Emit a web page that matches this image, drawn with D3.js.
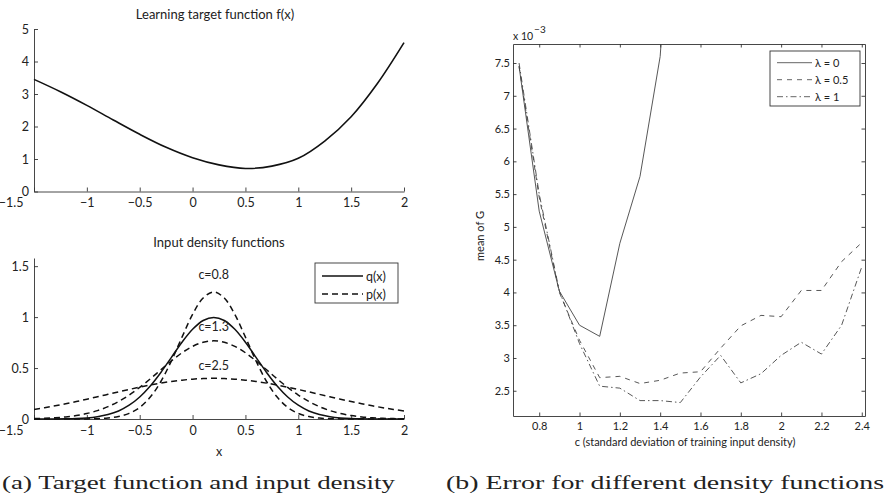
<!DOCTYPE html>
<html><head><meta charset="utf-8">
<script src="https://cdn.jsdelivr.net/npm/d3@7/dist/d3.min.js"></script>
<style>
body{margin:0;background:#fff;}
svg text{font-family:Lato,"Open Sans",sans-serif;fill:#222;}
.cap{font-family:"Liberation Serif","DejaVu Serif",serif;}
</style></head>
<body>
<svg id="c" width="885" height="500"></svg>
<script>
// ---------- data ----------
// (a) top: learning target function f(x)
const fxX = [-1.5,-1.25,-1,-0.75,-0.5,-0.25,0,0.25,0.5,0.75,1,1.25,1.5,1.75,2];
const fxY = [3.45,3.07,2.65,2.20,1.76,1.36,1.04,0.82,0.71,0.78,1.02,1.55,2.30,3.33,4.58];
// (a) bottom: input densities
const densX = [-1.5,-1.4,-1.3,-1.2,-1.1,-1.0,-0.9,-0.8,-0.7,-0.6,-0.5,-0.4,-0.3,-0.2,-0.1,0,0.1,0.2,0.3,0.4,0.5,0.6,0.7,0.8,0.9,1.0,1.1,1.2,1.3,1.4,1.5,1.6,1.7,1.8,1.9,2.0];
const qX   = [0.0001,0.0003,0.0009,0.0022,0.005,0.011,0.023,0.044,0.079,0.135,0.216,0.324,0.457,0.605,0.753,0.880,0.967,0.997,0.967,0.880,0.753,0.605,0.457,0.324,0.216,0.135,0.079,0.044,0.023,0.011,0.005,0.002,0.001,0.0003,0.0001,0];
const pC08 = [0,0,0,0.0001,0.0003,0.0011,0.0034,0.0094,0.024,0.055,0.114,0.215,0.368,0.571,0.803,1.026,1.187,1.247,1.187,1.026,0.803,0.571,0.368,0.215,0.114,0.055,0.024,0.0094,0.0034,0.0011,0.0003,0.0001,0,0,0,0];
const pC13 = [0.0037,0.0068,0.012,0.0205,0.0337,0.0535,0.082,0.121,0.172,0.235,0.310,0.394,0.483,0.571,0.650,0.7125,0.753,0.767,0.753,0.7125,0.650,0.571,0.483,0.394,0.310,0.235,0.172,0.121,0.082,0.0535,0.0337,0.0205,0.012,0.0068,0.0037,0.0019];
const pC25 = [0.0940,0.1109,0.1295,0.1497,0.1714,0.1942,0.2179,0.2420,0.2661,0.2897,0.3123,0.3332,0.3521,0.3683,0.3814,0.3910,0.3970,0.3989,0.3970,0.3910,0.3814,0.3683,0.3521,0.3332,0.3123,0.2897,0.2661,0.2420,0.2179,0.1942,0.1714,0.1497,0.1295,0.1109,0.0940,0.0790];
const curveLabels = ["c=0.8","c=1.3","c=2.5"];
const curveLabelPos = [[0.2,1.37],[0.2,0.86],[0.2,0.48]];
// (b) error vs c  (values in units of 1e-3)
const cVals = [0.7,0.8,0.9,1.0,1.1,1.2,1.3,1.4,1.5,1.6,1.7,1.8,1.9,2.0,2.1,2.2,2.3,2.4];
const lam0  = [7.45,5.24,4.02,3.50,3.33,4.75,5.77,7.60,12.0,null,null,null,null,null,null,null,null,null];
const lam05 = [7.45,5.45,4.00,3.27,2.70,2.72,2.61,2.66,2.77,2.79,3.15,3.49,3.65,3.63,4.03,4.03,4.47,4.76];
const lam1  = [7.50,5.50,4.02,3.22,2.57,2.54,2.35,2.35,2.32,2.71,3.04,2.62,2.76,3.04,3.24,3.06,3.50,4.39];
const legendB = ["\u03bb = 0","\u03bb = 0.5","\u03bb = 1"];
const xTicksA = [-1.5,-1,-0.5,0,0.5,1,1.5,2];
const yTicksTop = [0,1,2,3,4,5];
const yTicksBot = [0,0.5,1,1.5];
const xTicksB = [0.8,1,1.2,1.4,1.6,1.8,2,2.2,2.4];
const yTicksB = [2.5,3,3.5,4,4.5,5,5.5,6,6.5,7,7.5];

// ---------- drawing ----------
const svg = d3.select("#c");
const fmt = v => String(v).replace("-","\u2212");
const axisCol = "#333";

function styleAxis(g, fs){
  g.select(".domain").attr("stroke",axisCol).attr("stroke-width",0.9);
  g.selectAll(".tick line").attr("stroke",axisCol).attr("stroke-width",0.9);
  g.selectAll(".tick text").attr("font-size",fs).attr("fill","#222").attr("font-family","Lato,sans-serif");
}
// first x label sits left of the axis corner, as in the reference
function shiftFirst(g){
  g.selectAll(".tick text").filter((d,i)=>i===0).attr("text-anchor","end").attr("x",-11);
}

// ---- top-left
const xA = d3.scaleLinear().domain([-1.5,2]).range([34,404]);
const yT = d3.scaleLinear().domain([0,5]).range([191.5,29]);
svg.append("g").attr("transform","translate(0,191.5)")
  .call(d3.axisBottom(xA).tickValues(xTicksA).tickFormat(fmt).tickSize(-4).tickSizeOuter(0).tickPadding(7))
  .call(g=>styleAxis(g,12.5)).call(shiftFirst);
svg.append("g").attr("transform","translate(34,0)")
  .call(d3.axisLeft(yT).tickValues(yTicksTop).tickFormat(fmt).tickSize(-4).tickSizeOuter(0).tickPadding(5))
  .call(g=>styleAxis(g,12.5));
svg.append("path").datum(fxX.map((x,i)=>[x,fxY[i]]))
  .attr("fill","none").attr("stroke","#111").attr("stroke-width",1.6)
  .attr("d",d3.line().x(d=>xA(d[0])).y(d=>yT(d[1])).curve(d3.curveCatmullRom));
svg.append("text").attr("x",215).attr("y",19).attr("text-anchor","middle").attr("font-size",13)
  .text("Learning target function f(x)");

// ---- bottom-left
const yB = d3.scaleLinear().domain([0,1.58]).range([419,258]);
svg.append("g").attr("transform","translate(0,419)")
  .call(d3.axisBottom(xA).tickValues(xTicksA).tickFormat(fmt).tickSize(-4).tickSizeOuter(0).tickPadding(7))
  .call(g=>styleAxis(g,12.5)).call(shiftFirst);
svg.append("g").attr("transform","translate(34,0)")
  .call(d3.axisLeft(yB).tickValues(yTicksBot).tickFormat(fmt).tickSize(-4).tickSizeOuter(0).tickPadding(5))
  .call(g=>styleAxis(g,12.5));
const lineB = d3.line().x((d,i)=>xA(densX[i])).y(d=>yB(d)).curve(d3.curveCatmullRom);
[pC08,pC13,pC25].forEach(arr=>{
  svg.append("path").datum(arr).attr("fill","none").attr("stroke","#111").attr("stroke-width",1.5)
    .attr("stroke-dasharray","6,4").attr("d",lineB);
});
svg.append("path").datum(qX).attr("fill","none").attr("stroke","#111").attr("stroke-width",1.5).attr("d",lineB);
curveLabels.forEach((t,i)=>{
  svg.append("text").attr("x",xA(curveLabelPos[i][0])).attr("y",yB(curveLabelPos[i][1]))
    .attr("text-anchor","middle").attr("font-size",12.5).text(t);
});
svg.append("text").attr("x",219).attr("y",247).attr("text-anchor","middle").attr("font-size",13).text("Input density functions");
svg.append("text").attr("x",219).attr("y",456).attr("text-anchor","middle").attr("font-size",12.5).text("x");
// legend (a)
const lgA = svg.append("g");
lgA.append("rect").attr("x",315).attr("y",263).attr("width",83).attr("height",40).attr("fill","#fff").attr("stroke","#333").attr("stroke-width",0.9);
[["q(x)",null,276],["p(x)","6,4",294]].forEach(([t,da,y])=>{
  lgA.append("line").attr("x1",322).attr("x2",363).attr("y1",y).attr("y2",y).attr("stroke","#111").attr("stroke-width",1.5).attr("stroke-dasharray",da);
  lgA.append("text").attr("x",366).attr("y",y+4.5).attr("font-size",12.5).text(t);
});

// ---- right plot
const xR = d3.scaleLinear().domain([0.67,2.416]).range([513,865]);
const yR = d3.scaleLinear().domain([2.115e-3,7.79e-3]).range([416,44]);
const fmtR = v => d3.format("~g")(+(v*1000).toFixed(3));
svg.append("g").attr("transform","translate(0,416)")
  .call(d3.axisBottom(xR).tickValues(xTicksB).tickSize(-3.5).tickSizeOuter(0).tickPadding(6).tickFormat(d3.format("~g")))
  .call(g=>styleAxis(g,11));
svg.append("g").attr("transform","translate(0,44)")
  .call(d3.axisTop(xR).tickValues(xTicksB).tickSize(-3.5).tickSizeOuter(0).tickFormat(""))
  .call(g=>styleAxis(g,11));
svg.append("g").attr("transform","translate(513,0)")
  .call(d3.axisLeft(yR).tickValues(yTicksB.map(v=>v/1000)).tickSize(-3.5).tickSizeOuter(0).tickPadding(3).tickFormat(fmtR))
  .call(g=>styleAxis(g,11));
svg.append("g").attr("transform","translate(865,0)")
  .call(d3.axisRight(yR).tickValues(yTicksB.map(v=>v/1000)).tickSize(-3.5).tickSizeOuter(0).tickFormat(""))
  .call(g=>styleAxis(g,11));
svg.append("clipPath").attr("id","clipR").append("rect").attr("x",513).attr("y",44).attr("width",352).attr("height",372);
const lineR = d3.line().defined(d=>d!=null).x((d,i)=>xR(cVals[i])).y(d=>yR(d/1000));
const seriesR = [[lam0,null],[lam05,"5,5"],[lam1,"6,3,1.5,3"]];
seriesR.forEach(([arr,da])=>{
  svg.append("path").datum(arr).attr("clip-path","url(#clipR)").attr("fill","none")
    .attr("stroke","#444").attr("stroke-width",0.9).attr("stroke-dasharray",da).attr("d",lineR);
});
// exponent
const ex = svg.append("text").attr("x",513).attr("y",40).attr("font-size",10.5);
ex.append("tspan").text("x 10");
ex.append("tspan").attr("dy",-7).attr("dx",1).attr("font-size",10).text("\u22123");
svg.append("text").attr("transform","translate(484,236) rotate(-90)").attr("text-anchor","middle").attr("font-size",11).text("mean of G");
svg.append("text").attr("x",685).attr("y",446).attr("text-anchor","middle").attr("font-size",11)
  .text("c (standard deviation of training input density)");
// legend (b)
const lgB = svg.append("g");
lgB.append("rect").attr("x",770).attr("y",51).attr("width",90).attr("height",55).attr("fill","#fff").attr("stroke","#333").attr("stroke-width",0.9);
legendB.forEach((t,i)=>{
  const y = 62.7 + i*17;
  lgB.append("line").attr("x1",777).attr("x2",812).attr("y1",y).attr("y2",y).attr("stroke","#555").attr("stroke-width",0.9).attr("stroke-dasharray",seriesR[i][1]);
  lgB.append("text").attr("x",815).attr("y",y+4).attr("font-size",11).text(t);
});

// captions
svg.append("text").attr("class","cap").attr("x",2).attr("y",489).attr("font-size",19)
  .attr("textLength",393).attr("lengthAdjust","spacingAndGlyphs").text("(a) Target function and input density");
svg.append("text").attr("class","cap").attr("x",446).attr("y",489).attr("font-size",19)
  .attr("textLength",438).attr("lengthAdjust","spacingAndGlyphs").text("(b) Error for different density functions");
</script>
</body></html>
